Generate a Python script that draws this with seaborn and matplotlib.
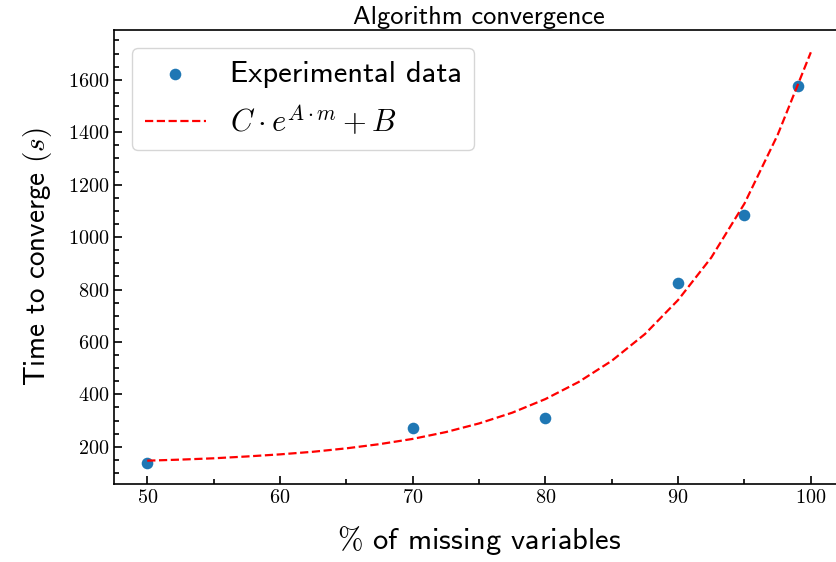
import matplotlib
matplotlib.use("Agg")
import matplotlib.pyplot as plt
import seaborn as sns
from matplotlib.ticker import MultipleLocator, FuncFormatter

# measured time to converge vs. share of missing variables
missing_pct = [50, 70, 80, 90, 95, 99]
conv_time = [140, 272, 308, 823, 1084, 1578]

# fitted curve C*exp(A*m)+B
fit_pct = [50, 52.5, 55, 57.5, 60, 62.5, 65, 67.5, 70, 72.5, 75,
           77.5, 80, 82.5, 85, 87.5, 90, 92.5, 95, 97.5, 100]
fit_time = [147, 151, 156, 163, 171, 181, 194, 210, 230, 256, 289,
            330, 382, 447, 528, 630, 760, 922, 1128, 1390, 1705]

sns.set_style("ticks")
plt.rcParams["font.family"] = ["cmss10", "DejaVu Sans"]
plt.rcParams["mathtext.fontset"] = "cm"
plt.rcParams["axes.unicode_minus"] = False
plt.rcParams["axes.linewidth"] = 1.2
for key in ["text.color", "axes.labelcolor", "axes.edgecolor",
            "xtick.color", "ytick.color"]:
    plt.rcParams[key] = "black"

fig = plt.figure(figsize=(8.36, 5.62), dpi=100)
ax = fig.add_axes([0.1364, 0.1388, 0.8732, 0.8078])

sns.scatterplot(x=missing_pct, y=conv_time, s=70, color="#1f77b4",
                linewidth=0, label="Experimental data", ax=ax)
sns.lineplot(x=fit_pct, y=fit_time, color="red", linestyle="--",
             linewidth=1.6, label=r"$C \cdot e^{A \cdot m} + B$", ax=ax)

ax.set_xlim(47.5, 102.5)
ax.set_ylim(58, 1790)
ax.xaxis.set_major_locator(MultipleLocator(10))
ax.xaxis.set_minor_locator(MultipleLocator(5))
ax.yaxis.set_major_locator(MultipleLocator(200))
ax.yaxis.set_minor_locator(MultipleLocator(50))
fmt = FuncFormatter(lambda v, p: f"${v:g}$")
ax.xaxis.set_major_formatter(fmt)
ax.yaxis.set_major_formatter(fmt)
ax.tick_params(which="both", direction="in", width=1.2, labelsize=14.5)
ax.tick_params(which="major", length=6)
ax.tick_params(which="minor", length=3.5)

ax.set_title("Algorithm convergence", fontsize=19, pad=4)
ax.set_xlabel(r"$\%$ of missing variables", fontsize=22, labelpad=12)
ax.set_ylabel(r"Time to converge $(s)$", fontsize=21, labelpad=10)
ax.legend(loc="upper left", fontsize=22, borderaxespad=0.6)

fig.savefig("out.png", dpi=100)
